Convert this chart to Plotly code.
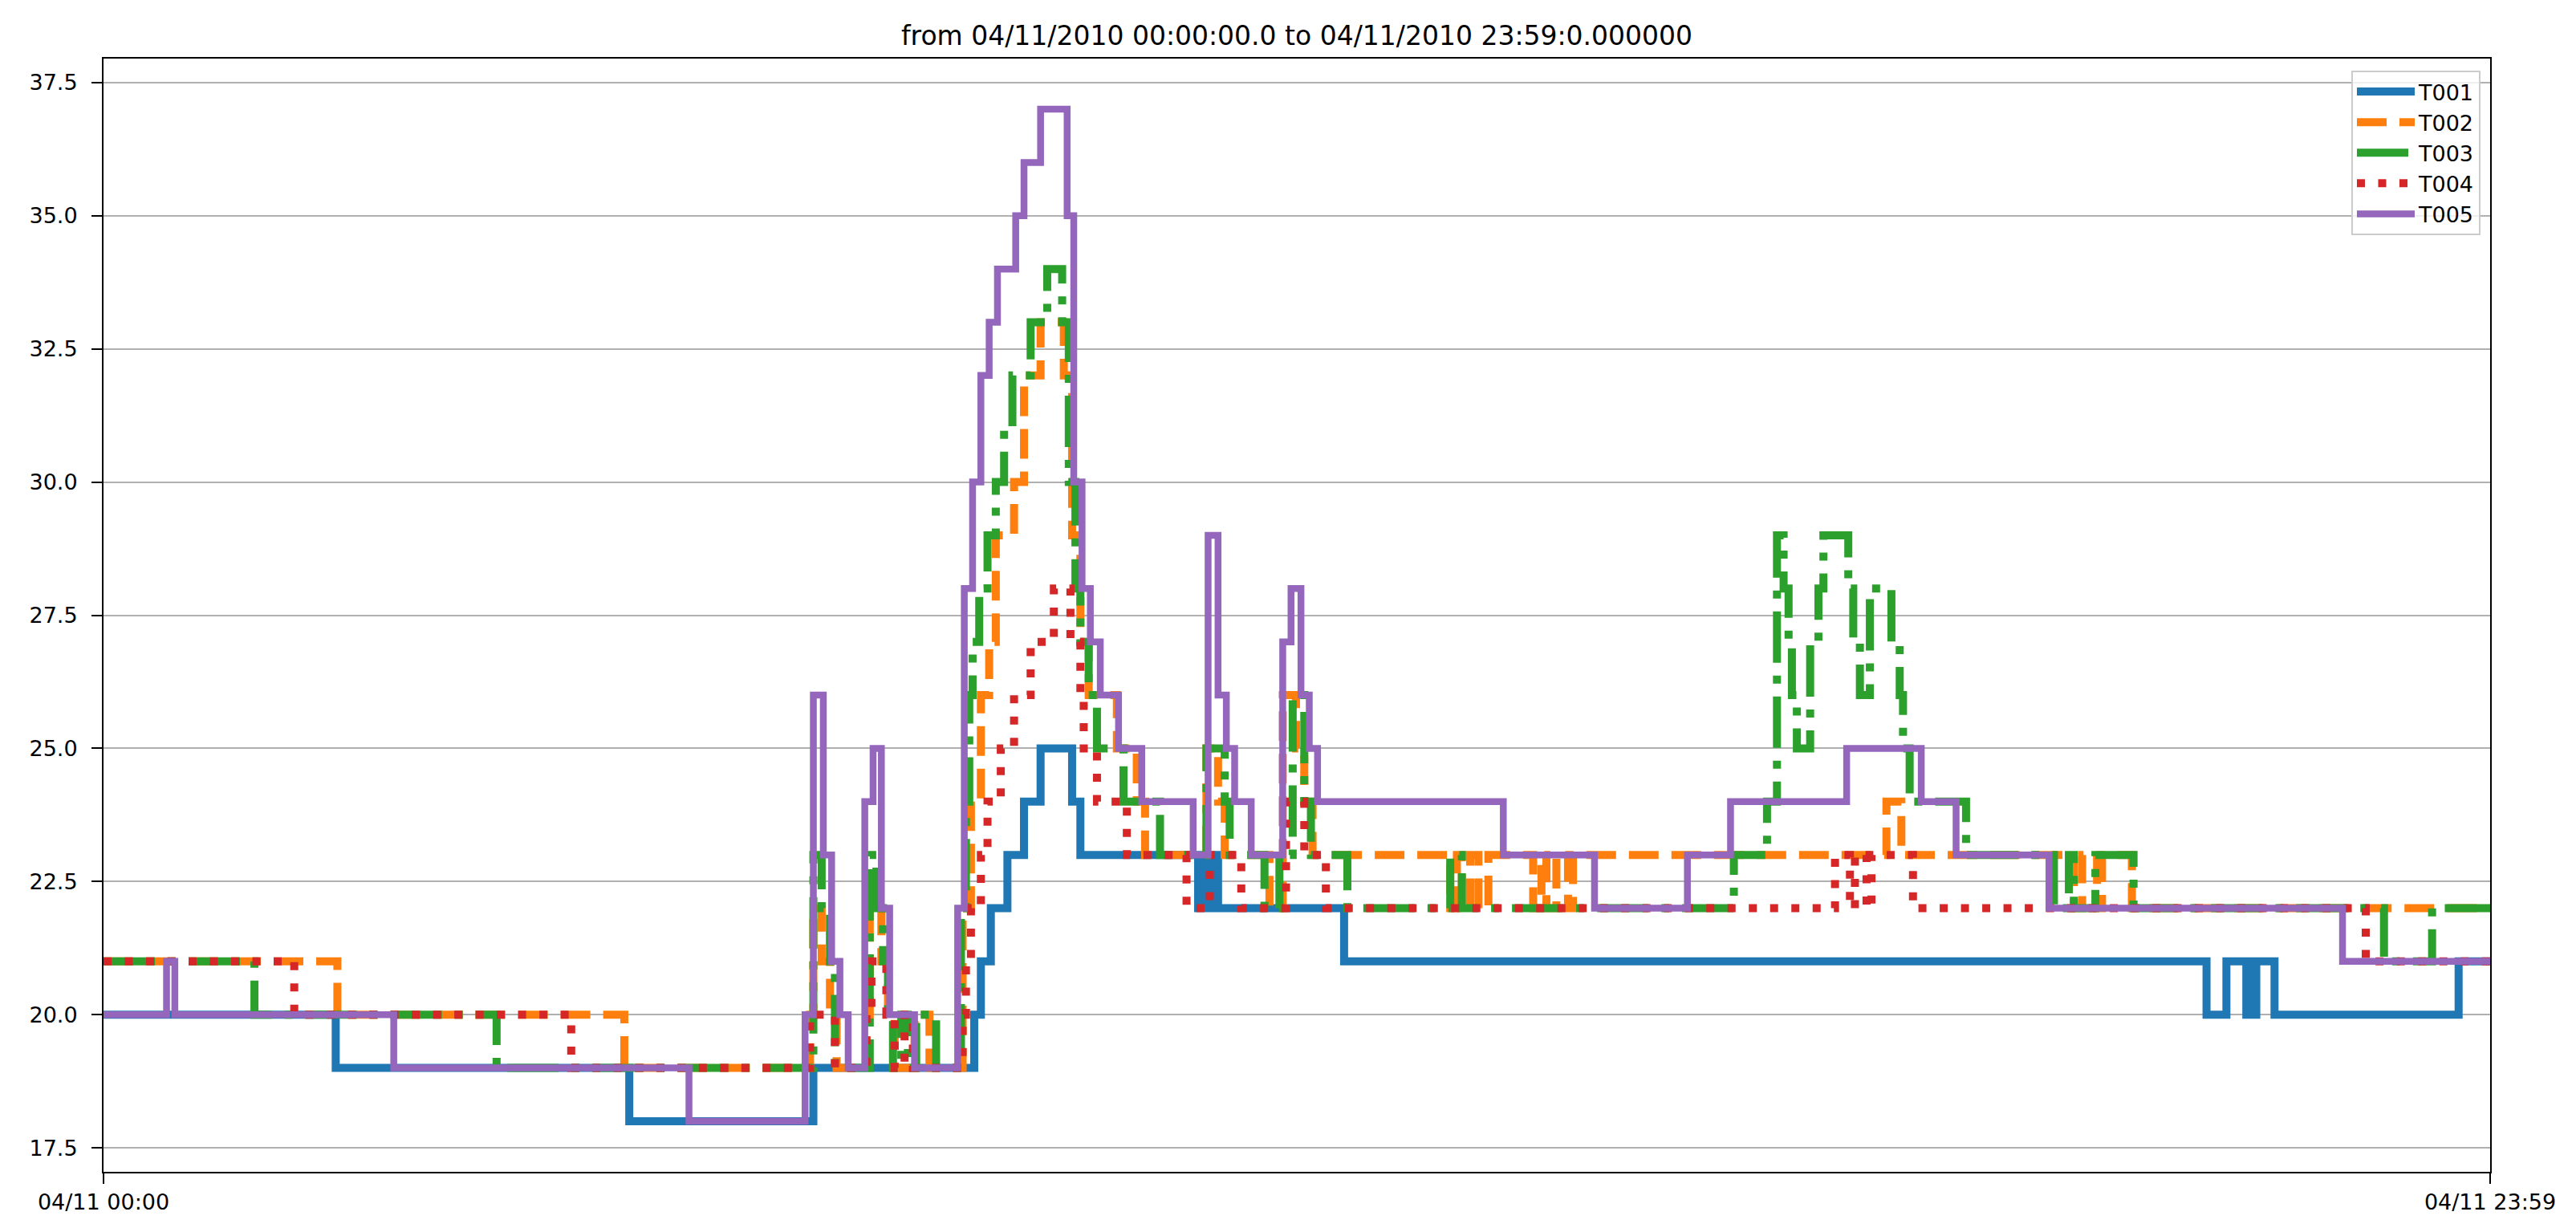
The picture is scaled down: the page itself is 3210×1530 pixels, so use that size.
import plotly.graph_objects as go

# ---------------- data (change points: minutes after midnight, temperature) -------------
DAY = "2010-04-11"
SERIES_NAMES = ["T001", "T002", "T003", "T004", "T005"]

T001_MIN = [0, 140, 317, 428, 525, 529, 535, 545, 555, 565, 584, 589, 660, 662, 664, 666, 668, 670, 672,
            748, 1268, 1280, 1292, 1294, 1296, 1298, 1309, 1420, 1439]
T001_VAL = [20, 19, 18, 19, 20, 21, 22, 23, 24, 25, 24, 23, 22, 23, 22, 23, 22, 23, 22,
            21, 20, 21, 20, 21, 20, 21, 20, 21, 21]

T002_MIN = [0, 141, 314, 426, 428, 433, 438, 442, 460, 462, 469, 473, 477, 489, 498, 518, 523, 529, 534,
            538, 549, 555, 565, 579, 584, 589, 594, 611, 623, 628, 665, 672, 676, 703, 711, 719, 724, 729,
            812, 816, 819, 824, 829, 835, 862, 867, 870, 876, 883, 886, 1075, 1084, 1188, 1193, 1202,
            1205, 1223, 1439]
T002_VAL = [21, 20, 19, 20, 22, 21, 20, 19, 20, 22, 21, 20, 19, 20, 19, 22, 24, 26, 27,
            29, 30, 32, 33, 32, 29, 27, 26, 25, 24, 23, 25, 24, 23, 22, 26, 25, 24, 23,
            22, 23, 22, 23, 22, 23, 22, 23, 22, 23, 22, 23, 24, 23, 22, 23, 22,
            23, 22, 22]

T003_MIN = [0, 91, 237, 428, 433, 438, 441, 462, 466, 470, 473, 476, 481, 485, 490, 502, 517, 520, 522,
            524, 528, 533, 538, 543, 548, 559, 569, 578, 582, 586, 589, 594, 599, 615, 637, 665, 676,
            679, 700, 709, 717, 724, 728, 750, 812, 819, 983, 1003, 1009, 1013, 1016, 1018, 1021, 1029,
            1034, 1037, 1052, 1055, 1059, 1065, 1078, 1083, 1085, 1089, 1123, 1176, 1185, 1188, 1201,
            1224, 1375, 1404, 1439]
T003_VAL = [21, 20, 19, 23, 22, 21, 19, 23, 22, 21, 20, 19, 20, 19, 20, 19, 22, 24, 26,
            27, 28, 29, 30, 31, 32, 33, 34, 33, 30, 28, 27, 26, 25, 24, 23, 25, 24,
            23, 22, 23, 26, 24, 23, 22, 23, 22, 23, 24, 29, 28, 27, 26, 25, 27,
            28, 29, 28, 27, 26, 28, 27, 26, 25, 24, 23, 22, 23, 22, 23,
            22, 21, 22, 22]

T004_MIN = [0, 115, 282, 426, 441, 460, 463, 472, 477, 483, 488, 518, 520, 523, 529, 533, 541, 549, 559,
            573, 583, 589, 591, 599, 617, 653, 667, 686, 713, 724, 737, 1044, 1053, 1056, 1063, 1066,
            1091, 1364, 1439]
T004_VAL = [21, 20, 19, 20, 19, 20, 21, 20, 19, 20, 19, 20, 21, 22, 23, 24, 25, 26, 27,
            28, 27, 26, 25, 24, 23, 22, 23, 22, 24, 23, 22, 23, 22, 23, 22, 23,
            22, 21, 21]

T005_MIN = [0, 38, 43, 175, 353, 423, 428, 434, 439, 444, 449, 459, 464, 469, 474, 489, 515, 519, 524,
            529, 534, 539, 550, 555, 565, 581, 585, 590, 595, 601, 612, 626, 657, 666, 672, 677, 682,
            692, 711, 716, 722, 727, 732, 844, 899, 955, 981, 1051, 1096, 1117, 1173, 1350, 1439]
T005_VAL = [20, 21, 20, 19, 18, 20, 26, 23, 21, 20, 19, 24, 25, 22, 20, 19, 22, 28, 30,
            32, 33, 34, 35, 36, 37, 35, 30, 28, 27, 26, 25, 24, 23, 29, 26, 25, 24,
            23, 27, 28, 26, 25, 24, 23, 22, 23, 24, 25, 24, 23, 22, 21, 21]

Y_TICKS = [17.5, 20.0, 22.5, 25.0, 27.5, 30.0, 32.5, 35.0, 37.5]
X_TICK_TEXT = ["04/11 00:00", "04/11 23:59"]
TITLE = "from 04/11/2010 00:00:00.0 to 04/11/2010 23:59:0.000000"

# ---------------- styles ----------------
COLORS = ["#1f77b4", "#ff7f0e", "#2ca02c", "#d62728", "#9467bd"]
DASHES = ["solid", "37px,16px", "64px,16px,10px,16px", "10px,16.5px", "solid"]
WIDTHS = [10, 10, 10, 10, 8.5]
FONT = "DejaVu Sans"


def to_ts(m):
    return f"{DAY} {m // 60:02d}:{m % 60:02d}"


data = [(T001_MIN, T001_VAL), (T002_MIN, T002_VAL), (T003_MIN, T003_VAL),
        (T004_MIN, T004_VAL), (T005_MIN, T005_VAL)]

fig = go.Figure()
for name, (mins, vals), c, d, w in zip(SERIES_NAMES, data, COLORS, DASHES, WIDTHS):
    fig.add_trace(go.Scatter(
        x=[to_ts(m) for m in mins], y=vals, name=name, mode="lines",
        line=dict(color=c, dash=d, width=w, shape="hv"),
    ))

W, H = 3210, 1530
L, R, T, B = 129, 107, 73, 70
PW, PH = W - L - R, H - T - B

fig.update_layout(
    width=W, height=H,
    margin=dict(l=L, r=R, t=T, b=B, autoexpand=False),
    paper_bgcolor="white", plot_bgcolor="white",
    font=dict(family=FONT, size=27, color="black"),
    title=dict(text=TITLE, x=(L + (W - R)) / 2 / W, xanchor="center",
               yref="container", y=1 - 44 / H, yanchor="middle",
               font=dict(family=FONT, size=33, color="black")),
    showlegend=True,
    legend=dict(x=1 - 12 / PW, y=1 - 15 / PH, xanchor="right", yanchor="top",
                itemwidth=72,
                bgcolor="rgba(255,255,255,0.8)", bordercolor="#cccccc", borderwidth=2,
                font=dict(family=FONT, size=27, color="black")),
    xaxis=dict(
        type="date",
        range=[to_ts(0), to_ts(1439)],
        tickmode="array", tickvals=[to_ts(0), to_ts(1439)], ticktext=X_TICK_TEXT,
        ticks="outside", ticklen=13, tickwidth=2, tickcolor="black",
        showgrid=False, zeroline=False,
        showline=True, linecolor="black", linewidth=2, mirror=True,
        tickfont=dict(family=FONT, size=27, color="black"),
    ),
    yaxis=dict(
        range=[17.05, 37.95],
        tickmode="array", tickvals=Y_TICKS, ticktext=[f"{v:.1f}" for v in Y_TICKS],
        ticks="outside", ticklen=13, tickwidth=2, tickcolor="black",
        showgrid=True, gridcolor="#b0b0b0", gridwidth=2,
        zeroline=False,
        showline=True, linecolor="black", linewidth=2, mirror=True,
        tickfont=dict(family=FONT, size=27, color="black"),
        ticklabelstandoff=12,
    ),
)

fig.write_html("out.html", config={"displayModeBar": False},
               post_script="document.body.style.margin='0';")
